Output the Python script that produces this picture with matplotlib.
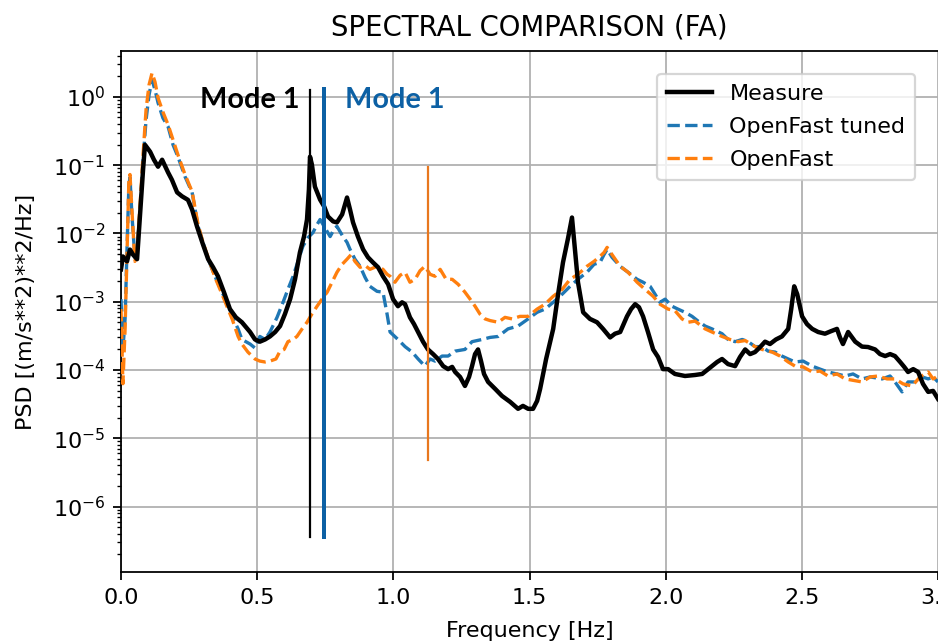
import matplotlib
matplotlib.use("Agg")
import matplotlib.pyplot as plt
import numpy as np

# ---------------- data ----------------
freq_measure = [0.000, 0.007, 0.022, 0.033, 0.044, 0.059, 0.070, 0.081, 0.088, 0.107,
                0.121, 0.136, 0.151, 0.173, 0.187, 0.206, 0.224, 0.246, 0.261, 0.279,
                0.301, 0.320, 0.338, 0.356, 0.378, 0.400, 0.422, 0.444, 0.474, 0.492,
                0.510, 0.529, 0.547, 0.566, 0.584, 0.602, 0.621, 0.639, 0.657, 0.672,
                0.683, 0.690, 0.694, 0.701, 0.712, 0.731, 0.746, 0.760, 0.779, 0.793,
                0.812, 0.830, 0.841, 0.852, 0.870, 0.889, 0.907, 0.925, 0.944, 0.962,
                0.981, 0.999, 1.017, 1.032, 1.043, 1.061, 1.076, 1.091, 1.109, 1.127,
                1.146, 1.164, 1.183, 1.201, 1.216, 1.227, 1.245, 1.263, 1.278, 1.289,
                1.300, 1.311, 1.322, 1.333, 1.348, 1.374, 1.399, 1.429, 1.458, 1.476,
                1.495, 1.513, 1.528, 1.539, 1.561, 1.587, 1.605, 1.623, 1.642, 1.656,
                1.667, 1.678, 1.697, 1.722, 1.748, 1.770, 1.796, 1.814, 1.833, 1.858,
                1.873, 1.888, 1.902, 1.917, 1.935, 1.954, 1.972, 1.990, 2.009, 2.034,
                2.071, 2.108, 2.134, 2.156, 2.170, 2.189, 2.207, 2.229, 2.255, 2.273,
                2.292, 2.310, 2.328, 2.347, 2.365, 2.383, 2.405, 2.427, 2.450, 2.461,
                2.472, 2.483, 2.501, 2.519, 2.538, 2.560, 2.585, 2.607, 2.629, 2.640,
                2.651, 2.670, 2.696, 2.721, 2.743, 2.769, 2.787, 2.806, 2.824, 2.842,
                2.861, 2.876, 2.890, 2.909, 2.927, 2.945, 2.964, 2.982, 3.000]
psd_measure = [2.98e-3, 4.6e-3, 3.9e-3, 5.8e-3, 4.9e-3, 4.2e-3, 1.9e-2, 8.6e-2, 0.199, 0.157,
               0.120, 0.095, 0.120, 0.078, 0.061, 0.040, 0.035, 0.031, 0.0224, 0.0127,
               0.0069, 0.0042, 0.0032, 0.00236, 0.00138, 0.00078, 0.00059, 0.00050, 0.00036, 0.00028,
               0.00026, 0.00028, 0.00031, 0.00036, 0.00044, 0.00066, 0.00109, 0.00213, 0.00528, 0.0090,
               0.0160, 0.044, 0.133, 0.102, 0.0485, 0.0313, 0.0248, 0.0177, 0.0150, 0.0145,
               0.0190, 0.0336, 0.0224, 0.0145, 0.0090, 0.00584, 0.00447, 0.00377, 0.00319, 0.00236,
               0.00180, 0.00109, 0.00086, 0.00098, 0.00092, 0.00059, 0.00047, 0.00036, 0.00026, 0.00020,
               1.71e-4, 1.45e-4, 1.14e-4, 1.03e-4, 1.11e-4, 9.35e-5, 7.91e-5, 5.84e-5, 7.91e-5, 1.14e-4,
               1.71e-4, 2.0e-4, 1.35e-4, 8.75e-5, 6.69e-5, 5.28e-5, 4.17e-5, 3.41e-5, 2.70e-5, 2.98e-5,
               2.70e-5, 2.70e-5, 3.53e-5, 5.28e-5, 1.45e-4, 4.0e-4, 1.29e-3, 3.77e-3, 8.7e-3, 1.71e-2,
               5.84e-3, 1.93e-3, 7.0e-4, 5.6e-4, 5.0e-4, 4.0e-4, 3.0e-4, 3.4e-4, 3.6e-4, 6.1e-4,
               7.8e-4, 9.2e-4, 8.3e-4, 6.1e-4, 3.6e-4, 2.0e-4, 1.55e-4, 1.03e-4, 1.03e-4, 8.75e-5,
               8.17e-5, 8.45e-5, 8.75e-5, 1.03e-4, 1.14e-4, 1.31e-4, 1.45e-4, 1.22e-4, 1.14e-4, 1.55e-4,
               2.0e-4, 1.71e-4, 1.83e-4, 2.17e-4, 2.6e-4, 2.4e-4, 2.8e-4, 3.1e-4, 4.0e-4, 7.8e-4,
               1.68e-3, 1.29e-3, 6.1e-4, 4.7e-4, 4.0e-4, 3.6e-4, 3.4e-4, 3.7e-4, 4.0e-4, 3.0e-4,
               2.4e-4, 3.6e-4, 2.6e-4, 2.2e-4, 2.17e-4, 2.0e-4, 1.71e-4, 1.6e-4, 1.71e-4, 1.6e-4,
               1.31e-4, 1.11e-4, 9.35e-5, 1.03e-4, 9.35e-5, 6.25e-5, 4.78e-5, 4.94e-5, 3.77e-5]

freq_tuned = [0.000, 0.007, 0.015, 0.022, 0.029, 0.033, 0.040, 0.051, 0.059, 0.070,
              0.081, 0.092, 0.103, 0.114, 0.125, 0.136, 0.154, 0.173, 0.191, 0.209,
              0.235, 0.261, 0.283, 0.301, 0.320, 0.345, 0.371, 0.393, 0.408, 0.430,
              0.444, 0.474, 0.492, 0.510, 0.529, 0.547, 0.573, 0.595, 0.613, 0.632,
              0.650, 0.668, 0.687, 0.705, 0.720, 0.731, 0.749, 0.768, 0.782, 0.793,
              0.815, 0.830, 0.841, 0.859, 0.878, 0.896, 0.914, 0.940, 0.962, 0.977,
              0.988, 1.017, 1.043, 1.069, 1.091, 1.116, 1.135, 1.153, 1.179, 1.201,
              1.227, 1.263, 1.289, 1.326, 1.355, 1.385, 1.421, 1.458, 1.495, 1.528,
              1.557, 1.587, 1.620, 1.649, 1.678, 1.711, 1.737, 1.759, 1.774, 1.785,
              1.803, 1.833, 1.862, 1.895, 1.917, 1.943, 1.961, 1.979, 1.998, 2.023,
              2.045, 2.071, 2.097, 2.119, 2.145, 2.170, 2.207, 2.229, 2.255, 2.281,
              2.303, 2.328, 2.354, 2.376, 2.402, 2.427, 2.450, 2.475, 2.505, 2.538,
              2.567, 2.596, 2.629, 2.659, 2.688, 2.721, 2.751, 2.795, 2.824, 2.842,
              2.868, 2.890, 2.916, 2.942, 2.964, 2.982, 3.000]
psd_tuned = [1.09e-3, 2.0e-4, 5.6e-4, 5.84e-3, 0.052, 0.066, 0.019, 4.47e-3, 5.84e-3, 0.0224,
             0.120, 0.46, 1.07, 1.77, 1.26, 0.82, 0.49, 0.365, 0.199, 0.133,
             0.068, 0.040, 0.0127, 0.0074, 0.0042, 2.36e-3, 1.38e-3, 9.2e-4, 6.1e-4, 4.0e-4,
             2.8e-4, 2.4e-4, 2.1e-4, 3.1e-4, 2.8e-4, 3.6e-4, 5.9e-4, 9.8e-4, 1.52e-3, 2.36e-3,
             3.9e-3, 6.5e-3, 8.7e-3, 0.0103, 0.0135, 0.0160, 0.0121, 0.0090, 0.0115, 0.0127,
             0.0090, 0.0074, 5.84e-3, 4.2e-3, 3.3e-3, 2.28e-3, 1.68e-3, 1.42e-3, 1.38e-3, 6.6e-4,
             3.6e-4, 2.8e-4, 2.2e-4, 1.83e-4, 1.45e-4, 1.14e-4, 1.45e-4, 1.35e-4, 1.6e-4, 1.6e-4,
             1.89e-4, 2.0e-4, 2.6e-4, 2.8e-4, 3.0e-4, 3.1e-4, 4.0e-4, 4.4e-4, 5.6e-4, 7.0e-4,
             7.8e-4, 9.8e-4, 1.29e-3, 1.68e-3, 2.13e-3, 2.7e-3, 3.53e-3, 3.77e-3, 4.93e-3, 5.84e-3,
             4.47e-3, 3.3e-3, 2.7e-3, 2.13e-3, 1.93e-3, 1.68e-3, 1.29e-3, 9.8e-4, 1.09e-3, 8.6e-4,
             7.8e-4, 7.0e-4, 6.1e-4, 5.2e-4, 4.4e-4, 4.0e-4, 3.4e-4, 2.8e-4, 2.6e-4, 2.8e-4,
             2.6e-4, 2.2e-4, 2.2e-4, 1.89e-4, 1.83e-4, 1.6e-4, 1.45e-4, 1.31e-4, 1.35e-4, 1.14e-4,
             1.03e-4, 9.35e-5, 8.75e-5, 8.17e-5, 8.75e-5, 7.4e-5, 7.91e-5, 7.4e-5, 8.17e-5, 6.69e-5,
             4.78e-5, 6.69e-5, 6.69e-5, 7.91e-5, 7.4e-5, 7.91e-5, 6.69e-5]

freq_openfast = [0.000, 0.007, 0.015, 0.022, 0.029, 0.033, 0.040, 0.051, 0.059, 0.070,
                 0.081, 0.092, 0.103, 0.114, 0.125, 0.136, 0.154, 0.173, 0.191, 0.209,
                 0.235, 0.261, 0.283, 0.301, 0.320, 0.345, 0.371, 0.393, 0.408, 0.430,
                 0.444, 0.466, 0.492, 0.510, 0.529, 0.547, 0.569, 0.584, 0.599, 0.613,
                 0.632, 0.646, 0.665, 0.683, 0.701, 0.720, 0.738, 0.757, 0.775, 0.793,
                 0.812, 0.830, 0.845, 0.859, 0.878, 0.896, 0.914, 0.940, 0.962, 0.977,
                 0.988, 1.006, 1.025, 1.043, 1.061, 1.080, 1.098, 1.116, 1.135, 1.153,
                 1.172, 1.194, 1.216, 1.238, 1.263, 1.282, 1.300, 1.318, 1.337, 1.355,
                 1.385, 1.410, 1.436, 1.465, 1.495, 1.528, 1.557, 1.587, 1.620, 1.649,
                 1.678, 1.711, 1.737, 1.759, 1.774, 1.785, 1.803, 1.833, 1.862, 1.895,
                 1.924, 1.954, 1.979, 2.009, 2.034, 2.060, 2.082, 2.108, 2.145, 2.170,
                 2.207, 2.236, 2.266, 2.292, 2.328, 2.354, 2.391, 2.420, 2.450, 2.475,
                 2.505, 2.538, 2.567, 2.596, 2.629, 2.659, 2.688, 2.721, 2.751, 2.780,
                 2.813, 2.842, 2.872, 2.905, 2.934, 2.964, 2.982, 3.000]
psd_openfast = [7.8e-4, 6.3e-5, 4.0e-4, 4.9e-3, 0.061, 0.073, 0.0224, 3.9e-3, 5.5e-3, 0.0265,
                0.142, 0.65, 1.50, 2.24, 1.65, 0.97, 0.60, 0.39, 0.236, 0.142,
                0.073, 0.041, 0.0135, 0.0074, 4.47e-3, 2.28e-3, 1.29e-3, 7.8e-4, 5.6e-4, 3.1e-4,
                2.4e-4, 1.83e-4, 1.45e-4, 1.35e-4, 1.31e-4, 1.35e-4, 1.45e-4, 1.89e-4, 2.0e-4, 2.6e-4,
                2.8e-4, 3.1e-4, 4.0e-4, 5.0e-4, 6.6e-4, 8.6e-4, 1.09e-3, 1.38e-3, 1.93e-3, 2.7e-3,
                3.53e-3, 4.2e-3, 4.9e-3, 3.9e-3, 3.19e-3, 3.41e-3, 2.98e-3, 3.3e-3, 2.98e-3, 2.52e-3,
                2.36e-3, 1.93e-3, 2.44e-3, 2.7e-3, 1.93e-3, 2.13e-3, 2.84e-3, 3.3e-3, 2.52e-3, 2.36e-3,
                2.98e-3, 2.13e-3, 2.13e-3, 1.8e-3, 1.38e-3, 1.09e-3, 8.6e-4, 6.6e-4, 5.6e-4, 5.3e-4,
                5.0e-4, 5.9e-4, 5.6e-4, 6.1e-4, 6.1e-4, 7.8e-4, 9.2e-4, 1.2e-3, 1.52e-3, 2.13e-3,
                2.52e-3, 3.3e-3, 3.9e-3, 4.62e-3, 5.28e-3, 6.25e-3, 4.9e-3, 3.3e-3, 2.7e-3, 1.93e-3,
                1.52e-3, 1.2e-3, 9.2e-4, 7.8e-4, 7.4e-4, 5.6e-4, 5.0e-4, 5.2e-4, 4.0e-4, 3.6e-4,
                3.1e-4, 2.8e-4, 2.6e-4, 2.7e-4, 2.2e-4, 2.0e-4, 1.83e-4, 1.6e-4, 1.31e-4, 1.14e-4,
                1.11e-4, 9.35e-5, 9.65e-5, 8.17e-5, 8.75e-5, 7.4e-5, 7.06e-5, 6.69e-5, 7.91e-5, 8.17e-5,
                7.4e-5, 7.4e-5, 6.25e-5, 5.84e-5, 7.91e-5, 9.35e-5, 7.4e-5, 8.17e-5]

series_labels = ["Measure", "OpenFast tuned", "OpenFast"]
mode_freqs = [0.694, 0.746, 1.127]   # Hz: measured, tuned model, original model
mode_labels = ["Mode 1", "Mode 1"]
title = "SPECTRAL COMPARISON (FA)"
xlabel = "Frequency [Hz]"
ylabel = "PSD [(m/s**2)**2/Hz]"

# ---------------- plot ----------------
DPI = 160
fig = plt.figure(figsize=(938 / DPI, 644 / DPI), dpi=DPI)
ax = fig.add_axes([121 / 938, (644 - 572) / 644, 1 - 121 / 938, (572 - 51) / 644])

ax.semilogy(freq_measure, psd_measure, color="black", lw=2.0, label=series_labels[0], zorder=4)
ax.semilogy(freq_tuned, psd_tuned, "--", color="tab:blue", lw=1.5, label=series_labels[1], zorder=3)
ax.semilogy(freq_openfast, psd_openfast, "--", color="tab:orange", lw=1.5, label=series_labels[2], zorder=3.5)

ax.set_xlim(0, 3.0)
ax.set_ylim(1.1e-7, 4.7)
ax.grid(True, which="major")
ax.set_title(title, fontsize=12.4, pad=7)
ax.set_xlabel(xlabel, labelpad=6)
ax.set_ylabel(ylabel, labelpad=7.5)
ax.spines["right"].set_visible(False)

ax.legend(loc="upper right", bbox_to_anchor=(0.986, 0.978), fontsize=10,
          labelspacing=0.6, borderpad=0.45)

blue_mode = "#0c60a4"
ax.axvline(mode_freqs[0], ymin=0.067, ymax=0.925, color="black", lw=1.0, zorder=5)
ax.axvline(mode_freqs[1], ymin=0.067, ymax=0.928, color=blue_mode, lw=1.8, zorder=5)
ax.axvline(mode_freqs[2], ymin=0.215, ymax=0.777, color="#e8771e", lw=1.0, zorder=5)

ax.text(0.219, 0.891, mode_labels[0], transform=ax.transAxes, ha="right", va="baseline",
        fontsize=13, fontweight="bold", family=["Lato", "DejaVu Sans"], color="black")
ax.text(0.274, 0.891, mode_labels[1], transform=ax.transAxes, ha="left", va="baseline",
        fontsize=13, fontweight="bold", family=["Lato", "DejaVu Sans"], color=blue_mode)

fig.savefig("out.png", dpi=DPI)
